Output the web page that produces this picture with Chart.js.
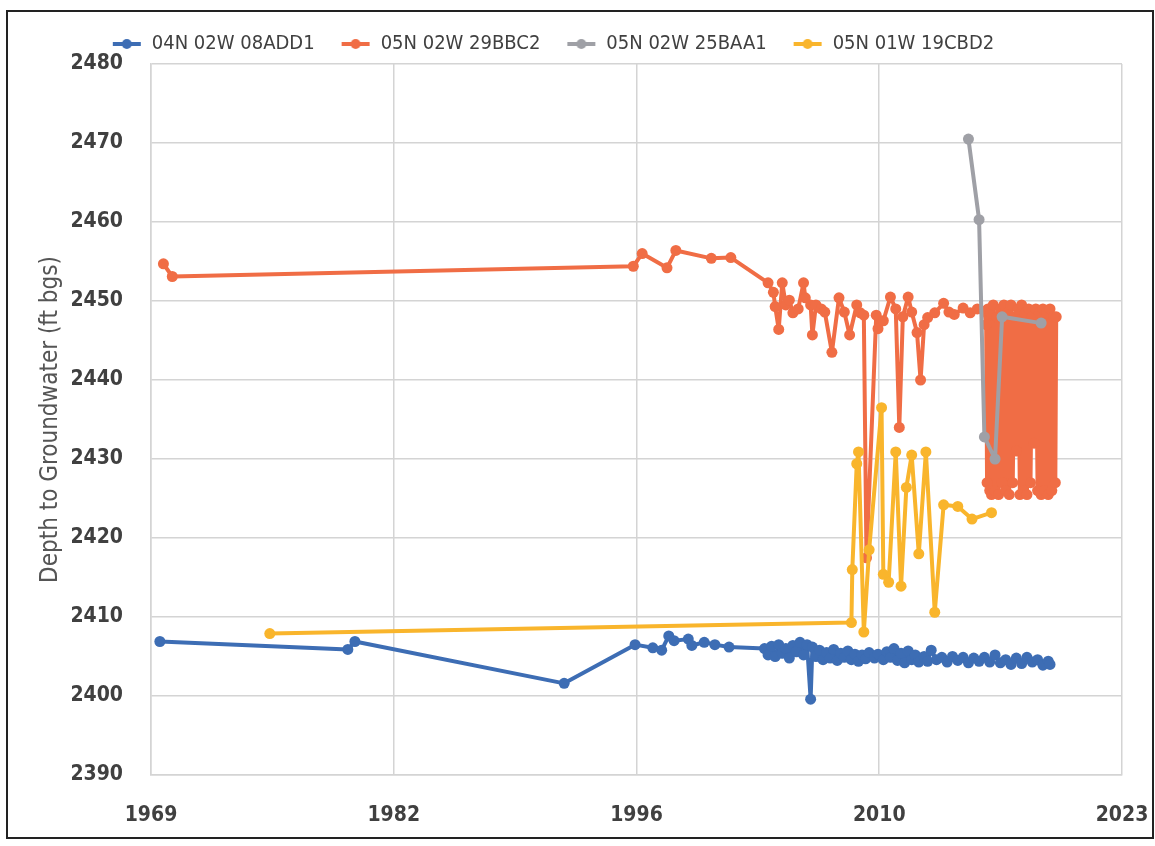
<!DOCTYPE html>
<html>
<head>
<meta charset="utf-8">
<script src="https://cdn.jsdelivr.net/npm/chart.js@4"></script>
<style>
  html, body { margin: 0; padding: 0; background: #fff; }
  #wrap { width: 1155px; height: 846px; }
</style>
</head>
<body>
<div id="wrap"><canvas id="chart" width="1155" height="846"></canvas></div>
<script>
const seriesNames = ['04N 02W 08ADD1', '05N 02W 29BBC2', '05N 02W 25BAA1', '05N 01W 19CBD2'];
const xTickLabels = ['1969', '1982', '1996', '2010', '2023'];
const xTickValues = [1969, 1982.69, 1996.38, 2010.07, 2023.76];

// 04N 02W 08ADD1
const blueYears = [1969.5, 1980.1, 1980.5, 1992.3, 1996.3, 1997.3, 1997.8, 1998.2, 1998.5, 1999.3, 1999.5, 2000.2, 2000.8, 2001.6,
  2003.6, 2003.8, 2004.0, 2004.2, 2004.4, 2004.6, 2004.8, 2005.0, 2005.2, 2005.4, 2005.6, 2005.8, 2006.0, 2006.2, 2006.3,
  2006.5, 2006.7, 2006.9, 2007.1, 2007.3, 2007.5, 2007.7, 2007.9, 2008.1, 2008.3, 2008.5, 2008.7, 2008.9, 2009.1, 2009.3,
  2009.5, 2009.8, 2010.0, 2010.3, 2010.5, 2010.7, 2010.9, 2011.1, 2011.3, 2011.5, 2011.7, 2011.9, 2012.1, 2012.3, 2012.6,
  2012.8, 2013.0, 2013.3, 2013.6, 2013.9, 2014.2, 2014.5, 2014.8, 2015.1, 2015.4, 2015.7, 2016.0, 2016.3, 2016.6, 2016.9,
  2017.2, 2017.5, 2017.8, 2018.1, 2018.4, 2018.7, 2019.0, 2019.3, 2019.6, 2019.7];
const blueDepth = [2406.9, 2405.9, 2406.9, 2401.6, 2406.5, 2406.1, 2405.8, 2407.6, 2407.0, 2407.2, 2406.4, 2406.8, 2406.5, 2406.2,
  2406.0, 2405.2, 2406.3, 2405.0, 2406.5, 2405.4, 2406.0, 2404.8, 2406.4, 2405.6, 2406.8, 2405.2, 2406.5, 2399.6, 2406.2,
  2405.0, 2405.8, 2404.6, 2405.5, 2404.8, 2405.9, 2404.5, 2405.4, 2404.9, 2405.7, 2404.6, 2405.3, 2404.4, 2405.2, 2404.7,
  2405.5, 2404.8, 2405.3, 2404.6, 2405.6, 2404.9, 2406.0, 2404.5, 2405.4, 2404.2, 2405.7, 2404.6, 2405.2, 2404.3, 2405.0,
  2404.4, 2405.8, 2404.6, 2404.9, 2404.3, 2405.0, 2404.5, 2404.9, 2404.2, 2404.8, 2404.4, 2404.9, 2404.3, 2405.2, 2404.2,
  2404.6, 2404.0, 2404.8, 2404.1, 2404.9, 2404.3, 2404.6, 2403.9, 2404.4, 2404.0];

// 05N 02W 29BBC2
const orangeYears = [1969.7, 1970.2, 1996.2, 1996.7, 1998.1, 1998.6, 2000.6, 2001.7,
  2003.8, 2004.1, 2004.2, 2004.4, 2004.6, 2004.8, 2005.0, 2005.2, 2005.5, 2005.8, 2005.9, 2006.2, 2006.3, 2006.5, 2006.8,
  2007.0, 2007.4, 2007.8, 2008.1, 2008.4, 2008.8, 2009.0, 2009.2, 2009.35, 2009.9, 2010.0, 2010.3, 2010.7, 2011.0, 2011.2,
  2011.4, 2011.7, 2011.9, 2012.2, 2012.4, 2012.6, 2012.8, 2013.2, 2013.7, 2014.0, 2014.3, 2014.8, 2015.2, 2015.6, 2016.0,
  2016.1, 2016.15, 2016.2, 2016.3, 2016.35, 2016.4, 2016.5, 2016.6, 2016.7, 2016.8, 2016.9, 2017.0, 2017.1, 2017.2, 2017.3,
  2017.4, 2017.5, 2017.6, 2017.7, 2017.8, 2017.9, 2018.0, 2018.1, 2018.2, 2018.3, 2018.4, 2018.5, 2018.6, 2018.7, 2018.8,
  2018.9, 2019.0, 2019.1, 2019.2, 2019.3, 2019.4, 2019.5, 2019.6, 2019.7, 2019.8, 2019.9, 2020.0, 2020.05];
const orangeDepth = [2454.7, 2453.1, 2454.4, 2456.0, 2454.2, 2456.4, 2455.4, 2455.5,
  2452.3, 2451.1, 2449.3, 2446.4, 2452.3, 2449.5, 2450.1, 2448.5, 2449.0, 2452.3, 2450.4, 2449.5, 2445.7, 2449.5, 2449.0,
  2448.6, 2443.5, 2450.4, 2448.6, 2445.7, 2449.5, 2448.5, 2448.2, 2417.5, 2448.2, 2446.5, 2447.5, 2450.5, 2449.0, 2434.0,
  2448.0, 2450.5, 2448.6, 2446.0, 2440.0, 2447.0, 2447.9, 2448.5, 2449.7, 2448.6, 2448.3, 2449.1, 2448.5, 2449.0, 2448.7,
  2447.0, 2427.0, 2449.0, 2426.0, 2448.5, 2425.5, 2449.5, 2426.0, 2448.0, 2425.5, 2449.0, 2427.0, 2449.5, 2426.0, 2448.5,
  2425.5, 2449.5, 2427.0, 2448.0, 2431.0, 2449.0, 2425.5, 2449.5, 2426.0, 2448.5, 2425.5, 2449.0, 2427.0, 2448.0, 2432.0,
  2449.0, 2426.0, 2448.5, 2425.5, 2449.0, 2426.0, 2448.5, 2425.5, 2449.0, 2426.0, 2448.0, 2427.0, 2448.0];

// 05N 02W 25BAA1
const greyYears = [2015.1, 2015.7, 2016.0, 2016.6, 2017.0, 2019.2];
const greyDepth = [2470.5, 2460.3, 2432.8, 2430.0, 2448.0, 2447.2];

// 05N 01W 19CBD2
const yellowYears = [1975.7, 2008.5, 2008.55, 2008.8, 2008.9, 2009.2, 2009.5, 2010.2, 2010.3, 2010.6, 2011.0, 2011.3, 2011.6,
  2011.9, 2012.3, 2012.7, 2013.2, 2013.7, 2014.5, 2015.3, 2016.4];
const yellowDepth = [2407.9, 2409.3, 2416.0, 2429.4, 2430.9, 2408.1, 2418.5, 2436.5, 2415.4, 2414.4, 2430.9, 2413.9, 2426.4,
  2430.5, 2418.0, 2430.9, 2410.6, 2424.2, 2424.0, 2422.4, 2423.2];

const colors = ['#3d6db4', '#f06d45', '#9fa0a6', '#f9b52c'];
const tickFont = 'DejaVu Sans Condensed, Liberation Sans, sans-serif';

function toPoints(xs, ys) {
  return xs.map((x, i) => ({ x: x, y: ys[i] }));
}

// little line-with-marker swatch for the legend, like the spreadsheet one
function legendSwatch(color) {
  const c = document.createElement('canvas');
  c.width = 30; c.height = 14;
  const g = c.getContext('2d');
  g.strokeStyle = color; g.lineWidth = 4;
  g.beginPath(); g.moveTo(1, 7); g.lineTo(29, 7); g.stroke();
  g.fillStyle = color;
  g.beginPath(); g.arc(15, 7, 5, 0, Math.PI * 2); g.fill();
  return c;
}

const frame = {
  id: 'frame',
  afterLayout(chart) {
    // legend sits a bit left of centre in the original
    chart.legend.left -= 26;
    chart.legend.right -= 26;
  },
  afterDraw(chart) {
    const ctx = chart.ctx;
    ctx.save();
    ctx.strokeStyle = '#222';
    ctx.lineWidth = 2;
    ctx.strokeRect(7, 11, 1146, 827);
    ctx.restore();
  }
};

const allSeries = [
  [blueYears, blueDepth],
  [orangeYears, orangeDepth],
  [greyYears, greyDepth],
  [yellowYears, yellowDepth]
];

const ctx = document.getElementById('chart').getContext('2d');
new Chart(ctx, {
  type: 'line',
  data: {
    datasets: allSeries.map((s, i) => ({
      label: seriesNames[i],
      data: toPoints(s[0], s[1]),
      borderColor: colors[i],
      backgroundColor: colors[i],
      borderWidth: 4,
      borderJoinStyle: 'round',
      pointRadius: 5.5,
      pointBorderWidth: 0,
      pointStyle: 'circle',
      tension: 0,
      order: 4 - i   // later series drawn on top, like the spreadsheet
    }))
  },
  options: {
    responsive: false,
    animation: false,
    layout: { padding: { top: 8, right: 33, bottom: 0, left: 36 } },
    plugins: {
      legend: {
        position: 'top',
        labels: {
          usePointStyle: true,
          pointStyleWidth: 30,
          padding: 26,
          color: '#404040',
          font: { family: tickFont, size: 20 },
          generateLabels(chart) {
            return chart.data.datasets.map((d, i) => ({
              text: d.label,
              pointStyle: legendSwatch(colors[i]),
              fillStyle: colors[i],
              strokeStyle: colors[i],
              fontColor: '#404040',
              lineWidth: 0,
              datasetIndex: i
            }));
          }
        }
      },
      tooltip: { enabled: false }
    },
    scales: {
      x: {
        type: 'linear',
        min: xTickValues[0],
        max: xTickValues[xTickValues.length - 1],
        afterBuildTicks(scale) {
          scale.ticks = xTickValues.map(v => ({ value: v }));
        },
        afterFit(scale) { scale.height = 71; },
        grid: { color: '#d4d4d4', lineWidth: 1.5, drawTicks: true, tickLength: 26, tickColor: 'rgba(0,0,0,0)' },
        border: { color: '#d4d4d4', width: 1.5 },
        ticks: {
          padding: 2,
          color: '#404040',
          maxRotation: 0,
          font: { family: tickFont, size: 21, weight: 'bold' },
          callback(value, index) { return xTickLabels[index]; }
        }
      },
      y: {
        min: 2390,
        max: 2480,
        afterFit(scale) { scale.width = 115; },
        grid: { color: '#d4d4d4', lineWidth: 1.5, drawTicks: false },
        border: { color: '#d4d4d4', width: 1.5 },
        title: {
          display: true,
          text: 'Depth to Groundwater (ft bgs)',
          color: '#555',
          padding: { top: 0, bottom: 8 },
          font: { family: tickFont, size: 24 }
        },
        ticks: {
          stepSize: 10,
          padding: 28,
          color: '#404040',
          font: { family: tickFont, size: 21, weight: 'bold' },
          callback(value) { return String(value); }
        }
      }
    }
  },
  plugins: [frame]
});
</script>
</body>
</html>
